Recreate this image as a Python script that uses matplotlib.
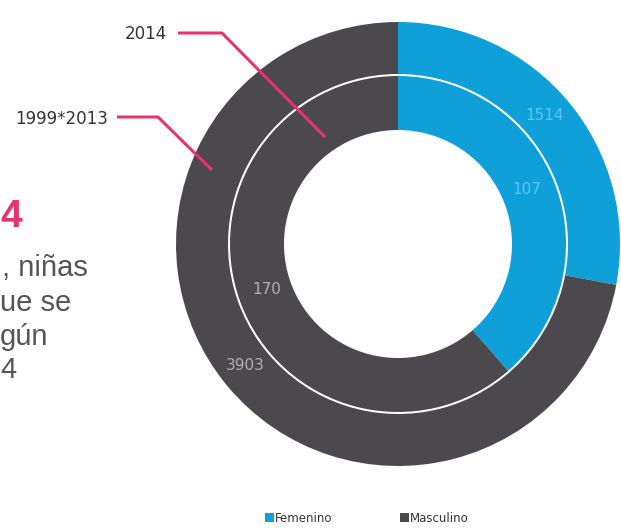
import matplotlib
matplotlib.use("Agg")
import matplotlib.pyplot as plt

# Data
categories = ["Femenino", "Masculino"]
values_1999_2013 = [1514, 3903]
values_2014 = [107, 170]
ring_labels = ["2014", "1999*2013"]
colors = ["#0f9fd9", "#4b494d"]

W, H = 621, 529
fig = plt.figure(figsize=(W / 100, H / 100), dpi=100)
ax = fig.add_axes([0, 0, 1, 1])

NARROW = ["Liberation Sans Narrow", "DejaVu Sans"]
SANS = ["Liberation Sans", "DejaVu Sans"]

cx, cy = 398, H - 244
R_out, w_out = 222, 52
R_in, w_in = 168, 54

ax.pie(values_1999_2013, colors=colors, startangle=90, counterclock=False,
       radius=R_out, center=(cx, cy), wedgeprops=dict(width=w_out, linewidth=0))
ax.pie(values_2014, colors=colors, startangle=90, counterclock=False,
       radius=R_in, center=(cx, cy), wedgeprops=dict(width=w_in, linewidth=0))

ax.set_xlim(0, W)
ax.set_ylim(0, H)
ax.set_aspect("equal")
ax.axis("off")

def py(y):
    return H - y

# value labels
lab_kw = dict(fontsize=11, family=NARROW, ha="center", va="center")
ax.text(545, py(115), str(values_1999_2013[0]), color="#5cc6ee", **lab_kw)
ax.text(527, py(190), str(values_2014[0]), color="#5cc6ee", **lab_kw)
ax.text(267, py(290), str(values_2014[1]), color="#b0afb2", **lab_kw)
ax.text(245, py(365), str(values_1999_2013[1]), color="#b0afb2", **lab_kw)

pink = "#e8336f"
# ring annotations
ax.text(167, py(34), ring_labels[0], color="#333333", fontsize=12,
        family=NARROW, ha="right", va="center")
ax.plot([178, 222, 325], [py(33), py(33), py(137)], color=pink, lw=2.2,
        solid_capstyle="butt")
ax.text(108, py(119), ring_labels[1], color="#333333", fontsize=12,
        family=NARROW, ha="right", va="center")
ax.plot([117, 158, 212], [py(117), py(117), py(170)], color=pink, lw=2.2,
        solid_capstyle="butt")

# side text fragments
ax.text(0, py(217), "4", color=pink, fontsize=28, fontweight="bold",
        family=SANS, ha="left", va="center")
ax.text(2, py(268), ", niñas", color="#555555", fontsize=21, family=SANS,
        ha="left", va="center")
ax.text(0, py(303), "ue se", color="#555555", fontsize=21, family=SANS,
        ha="left", va="center")
ax.text(0, py(337), "gún", color="#555555", fontsize=21, family=SANS,
        ha="left", va="center")
ax.text(0, py(370), "4", color="#555555", fontsize=21, family=SANS,
        ha="left", va="center")

# legend
for (x0, lab, col) in [(265, categories[0], colors[0]), (400, categories[1], colors[1])]:
    ax.add_patch(plt.Rectangle((x0, py(522)), 9, 9, color=col, lw=0))
    ax.text(x0 + 10, py(518), lab, color="#333333", fontsize=8.5,
            family=NARROW, ha="left", va="center")

fig.savefig("out.png", dpi=100)
